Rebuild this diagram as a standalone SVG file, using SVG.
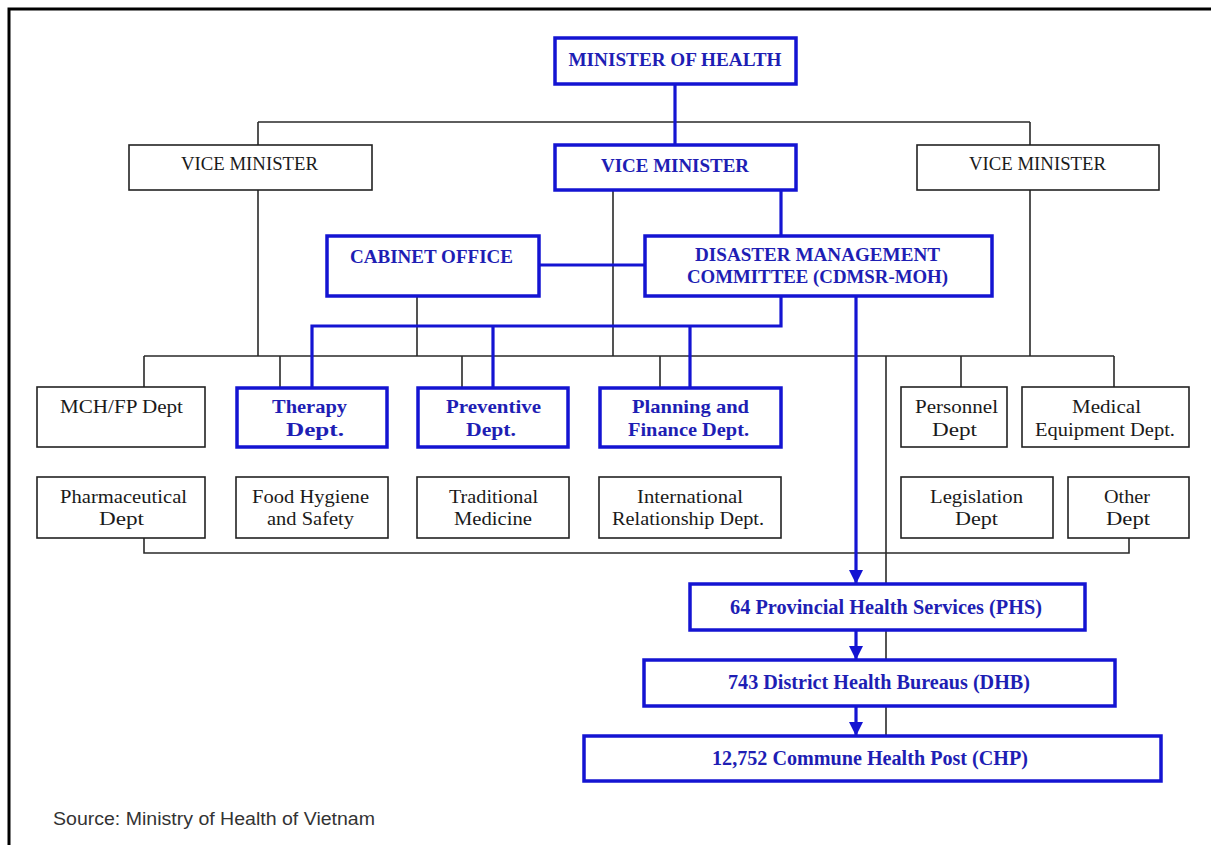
<svg xmlns="http://www.w3.org/2000/svg" width="1211" height="845" viewBox="0 0 1211 845">
<style>
.bg{fill:#fff}
.frame{fill:none;stroke:#000;stroke-width:3}
.gl{fill:none;stroke:#2a2a2a;stroke-width:1.6}
.bl{fill:none;stroke:#1414d2;stroke-width:3.2}
.nb{fill:#fff;stroke:#1414d2;stroke-width:3.5}
.nk{fill:#fff;stroke:#222;stroke-width:1.6}
.tb{font-family:"Liberation Serif","Times New Roman",serif;font-weight:bold;font-size:19px;fill:#1e1eb4;text-anchor:middle}
.tk{font-family:"Liberation Serif","Times New Roman",serif;font-size:19px;fill:#1a1a1a;text-anchor:middle}
.tl{font-family:"Liberation Serif","Times New Roman",serif;font-weight:bold;font-size:20px;fill:#1e1eb4;text-anchor:middle}
.src{font-family:"Liberation Sans",Arial,sans-serif;font-size:17.5px;fill:#333}
</style>
<defs>
<marker id="arr" markerWidth="14" markerHeight="14" refX="7" refY="13" orient="auto" markerUnits="userSpaceOnUse" viewBox="0 0 14 14">
<path d="M0,0 L14,0 L7,14 Z" fill="#1414d2" transform="rotate(-90 7 7)"/>
</marker>
<marker id="ah" markerWidth="14" markerHeight="14" refX="13" refY="7" orient="auto" markerUnits="userSpaceOnUse" viewBox="0 0 14 14">
<path d="M0,0 L14,7 L0,14 Z" fill="#1414d2"/>
</marker>
</defs>
<rect class="bg" x="0" y="0" width="1211" height="845"/>
<path class="frame" d="M9,845 V9 H1211"/>

<g id="connectors">
<path class="gl" d="M258,122 H1030 M258,122 V145 M1030,122 V145"/>
<path class="gl" d="M258,190 V356 M1030,190 V356 M613,190 V356 M417,296 V356"/>
<path class="gl" d="M144,356 H1114 M144,356 V387 M280,356 V387 M462,356 V387 M660,356 V387 M961,356 V387 M1114,356 V387"/>
<path class="gl" d="M886,356 V735"/>
<path class="gl" d="M144,538 V553 H1129 V538"/>
<path class="bl" d="M675,85 V145"/>
<path class="bl" d="M781,190 V235"/>
<path class="bl" d="M539,265 H644"/>
<path class="bl" d="M781,296 V326 H312 V387 M493,326 V387 M690,326 V387"/>
<path class="bl" d="M856,296 V583" marker-end="url(#ah)"/>
<path class="bl" d="M856,630 V659" marker-end="url(#ah)"/>
<path class="bl" d="M856,706 V735" marker-end="url(#ah)"/>
</g>

<g id="minister"><rect class="nb" x="555" y="38" width="241" height="46"/><text class="tb" x="675" y="65.5" textLength="213" lengthAdjust="spacingAndGlyphs">MINISTER OF HEALTH</text></g>
<g id="vm-left"><rect class="nk" x="129" y="145" width="243" height="45"/><text class="tk" x="249.5" y="169.5" textLength="137" lengthAdjust="spacingAndGlyphs">VICE MINISTER</text></g>
<g id="vm-center"><rect class="nb" x="555" y="145" width="241" height="45"/><text class="tb" x="675" y="172" textLength="148" lengthAdjust="spacingAndGlyphs">VICE MINISTER</text></g>
<g id="vm-right"><rect class="nk" x="917" y="145" width="242" height="45"/><text class="tk" x="1037.5" y="169.5" textLength="137" lengthAdjust="spacingAndGlyphs">VICE MINISTER</text></g>
<g id="cabinet"><rect class="nb" x="327" y="236" width="212" height="60"/><text class="tb" x="431.5" y="262.5" textLength="163" lengthAdjust="spacingAndGlyphs">CABINET OFFICE</text></g>
<g id="disaster"><rect class="nb" x="645" y="236" width="347" height="60"/><text class="tb" x="817.5" y="260.5" textLength="245" lengthAdjust="spacingAndGlyphs">DISASTER MANAGEMENT</text><text class="tb" x="817.5" y="282.5" textLength="261" lengthAdjust="spacingAndGlyphs">COMMITTEE (CDMSR-MOH)</text></g>

<g id="mchfp"><rect class="nk" x="37" y="387" width="168" height="60"/><text class="tk" x="121.5" y="413" textLength="123" lengthAdjust="spacingAndGlyphs">MCH/FP Dept</text></g>
<g id="therapy"><rect class="nb" x="237" y="388" width="150" height="59"/><text class="tb" x="309.5" y="413" textLength="75" lengthAdjust="spacingAndGlyphs">Therapy</text><text class="tb" x="315" y="436" textLength="58" lengthAdjust="spacingAndGlyphs">Dept.</text></g>
<g id="preventive"><rect class="nb" x="418" y="388" width="150" height="59"/><text class="tb" x="493.5" y="413" textLength="95" lengthAdjust="spacingAndGlyphs">Preventive</text><text class="tb" x="491" y="436" textLength="50" lengthAdjust="spacingAndGlyphs">Dept.</text></g>
<g id="planning"><rect class="nb" x="600" y="388" width="181" height="59"/><text class="tb" x="690.5" y="413" textLength="117" lengthAdjust="spacingAndGlyphs">Planning and</text><text class="tb" x="688.5" y="436" textLength="121" lengthAdjust="spacingAndGlyphs">Finance Dept.</text></g>
<g id="personnel"><rect class="nk" x="901" y="387" width="106" height="60"/><text class="tk" x="956.5" y="413" textLength="83" lengthAdjust="spacingAndGlyphs">Personnel</text><text class="tk" x="954.5" y="436" textLength="45" lengthAdjust="spacingAndGlyphs">Dept</text></g>
<g id="medical"><rect class="nk" x="1022" y="387" width="167" height="60"/><text class="tk" x="1106.5" y="413" textLength="69" lengthAdjust="spacingAndGlyphs">Medical</text><text class="tk" x="1105" y="436" textLength="140" lengthAdjust="spacingAndGlyphs">Equipment Dept.</text></g>

<g id="pharma"><rect class="nk" x="37" y="477" width="168" height="61"/><text class="tk" x="123.5" y="503" textLength="127" lengthAdjust="spacingAndGlyphs">Pharmaceutical</text><text class="tk" x="121.5" y="525" textLength="45" lengthAdjust="spacingAndGlyphs">Dept</text></g>
<g id="food"><rect class="nk" x="236" y="477" width="152" height="61"/><text class="tk" x="310.5" y="503" textLength="117" lengthAdjust="spacingAndGlyphs">Food Hygiene</text><text class="tk" x="310.5" y="525" textLength="87" lengthAdjust="spacingAndGlyphs">and Safety</text></g>
<g id="traditional"><rect class="nk" x="417" y="477" width="152" height="61"/><text class="tk" x="493.5" y="503" textLength="89" lengthAdjust="spacingAndGlyphs">Traditional</text><text class="tk" x="493" y="525" textLength="78" lengthAdjust="spacingAndGlyphs">Medicine</text></g>
<g id="international"><rect class="nk" x="599" y="477" width="182" height="61"/><text class="tk" x="690" y="503" textLength="106" lengthAdjust="spacingAndGlyphs">International</text><text class="tk" x="688" y="525" textLength="152" lengthAdjust="spacingAndGlyphs">Relationship Dept.</text></g>
<g id="legislation"><rect class="nk" x="901" y="477" width="152" height="61"/><text class="tk" x="976.5" y="503" textLength="93" lengthAdjust="spacingAndGlyphs">Legislation</text><text class="tk" x="976.5" y="525" textLength="43" lengthAdjust="spacingAndGlyphs">Dept</text></g>
<g id="other"><rect class="nk" x="1068" y="477" width="121" height="61"/><text class="tk" x="1127" y="503" textLength="46" lengthAdjust="spacingAndGlyphs">Other</text><text class="tk" x="1128" y="525" textLength="44" lengthAdjust="spacingAndGlyphs">Dept</text></g>

<g id="phs"><rect class="nb" x="690" y="584" width="395" height="46"/><text class="tl" x="886" y="614" textLength="312" lengthAdjust="spacingAndGlyphs">64 Provincial Health Services (PHS)</text></g>
<g id="dhb"><rect class="nb" x="644" y="660" width="471" height="46"/><text class="tl" x="879" y="689" textLength="302" lengthAdjust="spacingAndGlyphs">743 District Health Bureaus (DHB)</text></g>
<g id="chp"><rect class="nb" x="584" y="736" width="577" height="45"/><text class="tl" x="870" y="765" textLength="316" lengthAdjust="spacingAndGlyphs">12,752  Commune Health Post (CHP)</text></g>

<text class="src" x="53" y="825" textLength="322" lengthAdjust="spacingAndGlyphs">Source: Ministry of Health of Vietnam</text>
</svg>
